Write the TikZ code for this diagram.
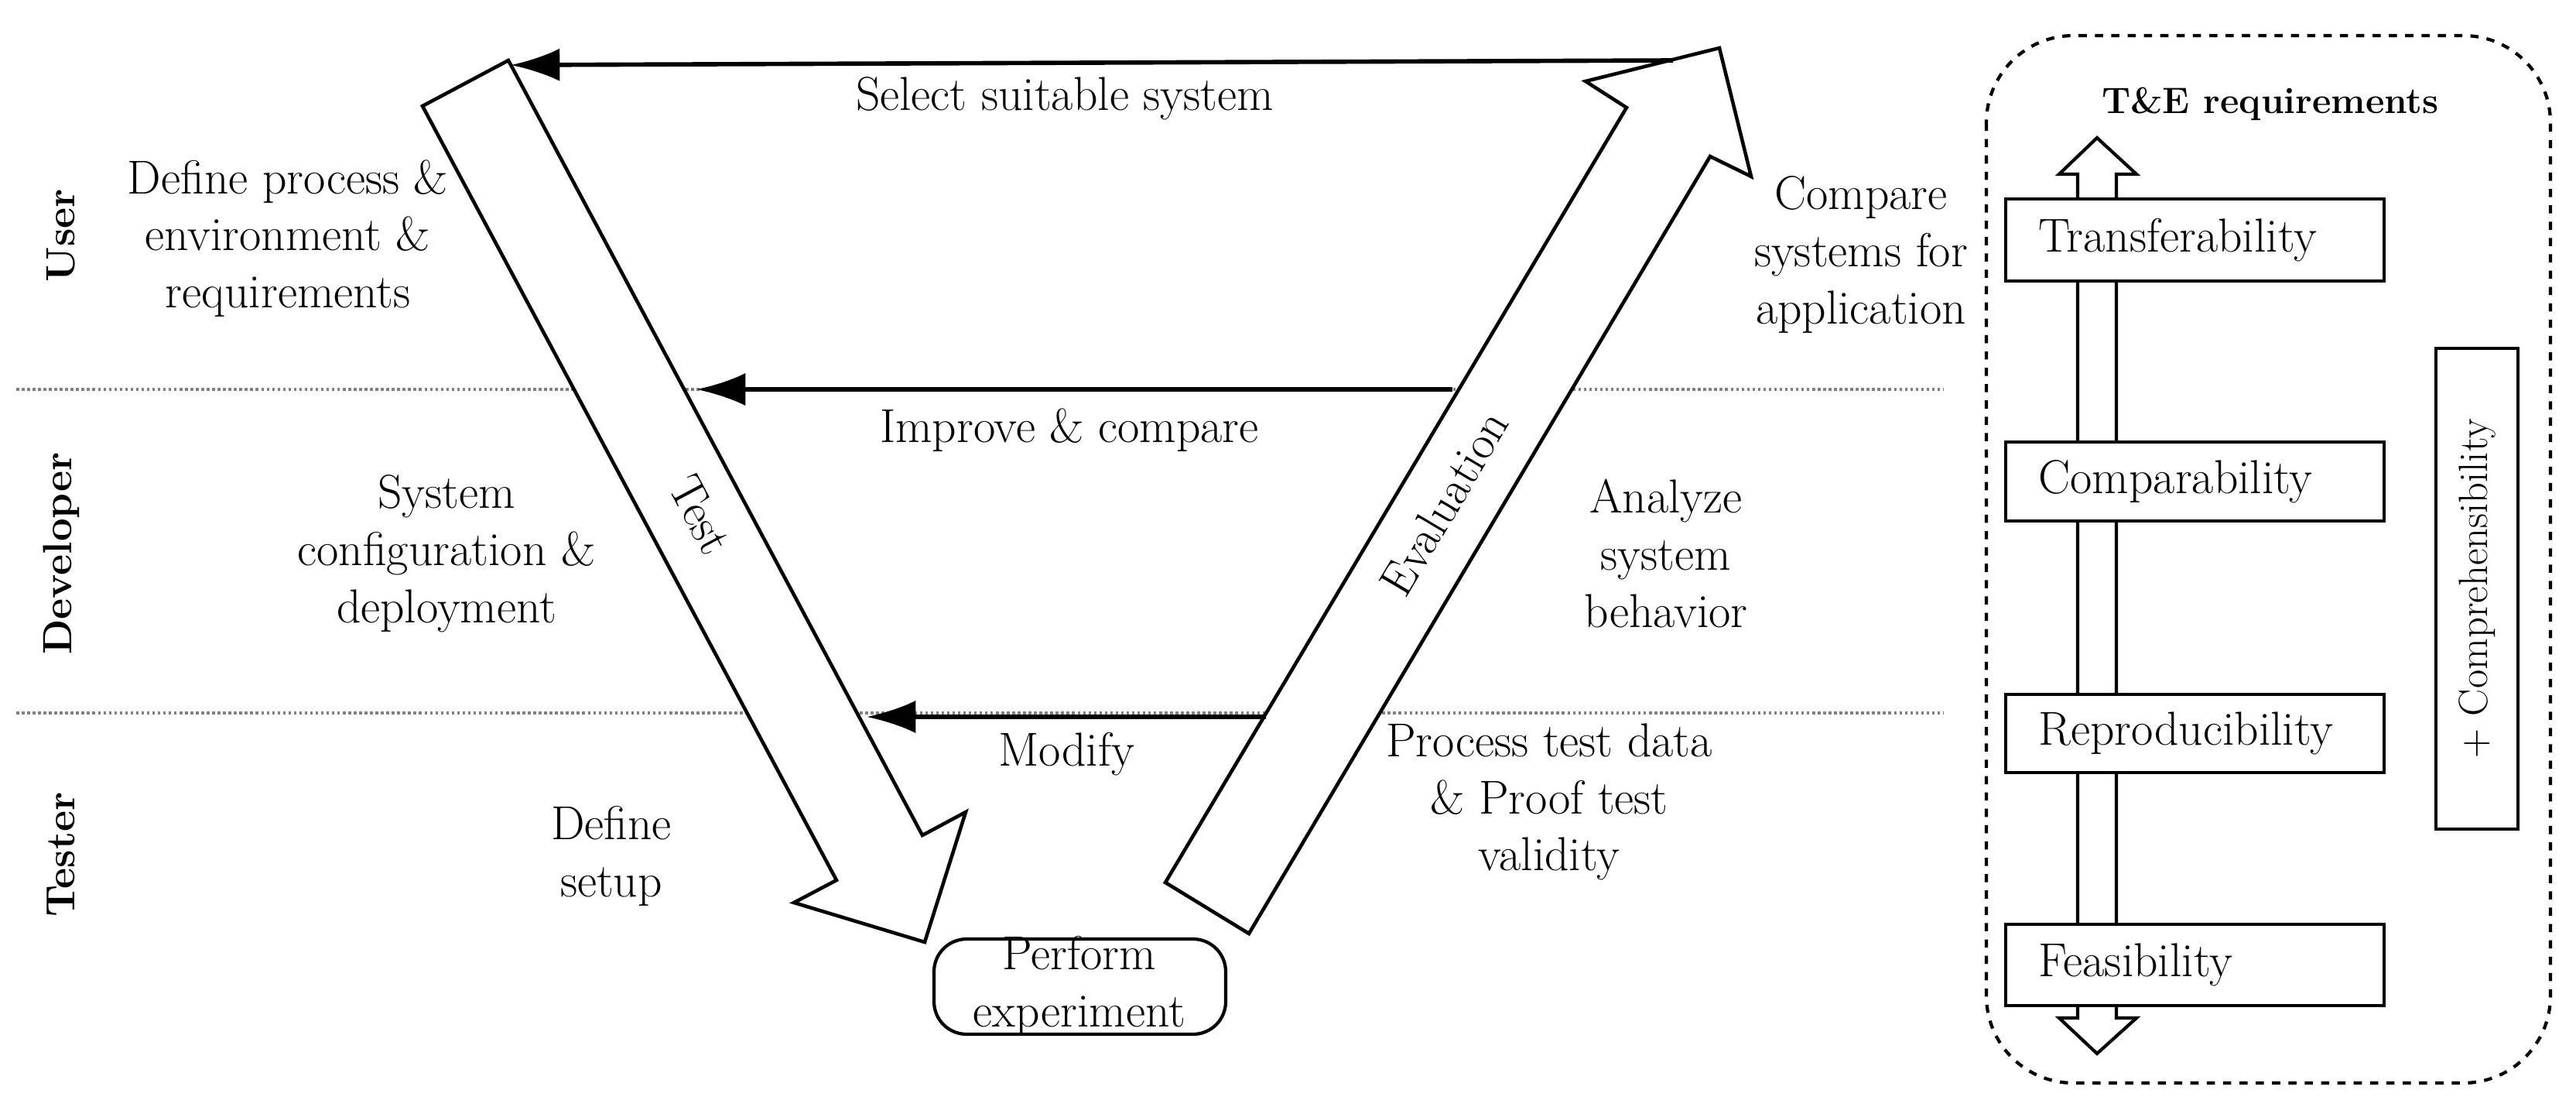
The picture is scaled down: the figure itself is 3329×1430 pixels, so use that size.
\documentclass[tikz,border=0pt]{standalone}
\usetikzlibrary{arrows.meta}
\begin{document}
\begin{tikzpicture}[x=0.01cm,y=-0.01cm,
  txt/.style={font=\fontsize{17.5}{21}\selectfont,align=center},
  role/.style={font=\fontsize{15}{20}\selectfont\bfseries,rotate=90},
  bigarrow/.style={draw,fill=white,line width=1.3pt,line join=miter},
  flow/.style={line width=1.6pt,-{Latex[length=18pt,width=12pt]}}]
\useasboundingbox (0,0) rectangle (3329,1430);
% dotted lanes
\draw[gray,densely dotted,line width=1pt] (21,503) -- (2511,503);
\draw[gray,densely dotted,line width=1pt] (21,921) -- (2511,921);
% role labels
\node[role] (user) at (79,304) {User};
\node[role] (dev) at (79,715) {Developer};
\node[role] (tester) at (79,1104) {Tester};
% Test arrow
\draw[bigarrow] (546,137) -- (657,78) -- (1192,1079) -- (1248,1049) -- (1195,1217) -- (1026,1166) -- (1081,1137) -- cycle;
\node[txt,rotate=-62] (test) at (905,665) {Test};
% Evaluation arrow
\draw[bigarrow] (1506,1140) -- (1614,1206) -- (2210,202) -- (2263,228) -- (2222,62) -- (2049,105) -- (2102,139) -- cycle;
\node[txt,rotate=59.3] (eval) at (1866,650) {Evaluation};
% flow arrows
\coordinate (s1) at (2162,78); \coordinate (s2) at (660,84);
\coordinate (i1) at (1877,503); \coordinate (i2) at (900,503);
\coordinate (m1) at (1636,926); \coordinate (m2) at (1120,926);
\draw[flow] (s1) -- (s2);
\draw[flow] (i1) -- (i2);
\draw[flow] (m1) -- (m2);
% texts
\node[txt] (sel) at (1376,127) {Select suitable system};
\node[txt] (defp) at (372,308) {Define process \&\\environment \&\\requirements};
\node[txt] (comp) at (2405,329) {Compare\\systems for\\application};
\node[txt] (imp) at (1382,556) {Improve \& compare};
\node[txt] (sys) at (577,715) {System\\configuration \&\\deployment};
\node[txt] (ana) at (2153,715) {Analyze\\system\\behavior};
\node[txt] (mod) at (1378,974) {Modify};
\node[txt] (defs) at (790,1106) {Define\\setup};
\node[txt] (proc) at (2002,1036) {Process test data\\\& Proof test\\validity};
\draw[line width=1.2pt,rounded corners=12pt] (1207,1213) rectangle (1584,1336);
\node[txt] (perf) at (1395,1274) {Perform\\experiment};
% right panel
\draw[dashed,line width=1.2pt,rounded corners=32pt] (2567,46) rectangle (3296,1399);
\node[font=\fontsize{13.5}{18}\selectfont\bfseries] (te) at (2934,134) {T\&E requirements};
\draw[line width=1.2pt,fill=white] (2685,1315) -- (2685,225) -- (2661,225) -- (2710,178) -- (2761,225) -- (2735,225) -- (2735,1315) -- (2761,1315) -- (2710,1361) -- (2661,1315) -- cycle;
\foreach \n/\t/\a/\b in {tr/Transferability/257/363, co/Comparability/571/673, re/Reproducibility/897/998, fe/Feasibility/1194/1299}{
  \draw[line width=1.2pt,fill=white] (2592,\a) rectangle (3081,\b);
  \node[font=\fontsize{17.5}{21}\selectfont,anchor=west] (\n) at (2622,{(\a+\b)/2}) {\t};
}
\draw[line width=1.2pt] (3148,450) rectangle (3254,1071);
\node[font=\fontsize{15}{20}\selectfont,rotate=90] (cb) at (3201,760) {+ Comprehensibility};
\end{tikzpicture}
\end{document}
